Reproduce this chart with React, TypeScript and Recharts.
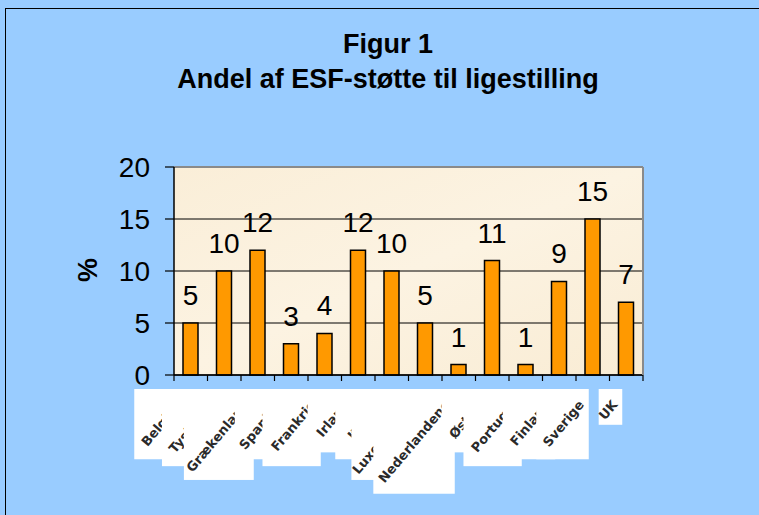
import React from "react";
import {
  BarChart,
  Bar,
  XAxis,
  YAxis,
  CartesianGrid,
  LabelList,
  ReferenceLine,
} from "recharts";

const categories = [
  "Belgien",
  "Tyskland",
  "Grækenland",
  "Spanien",
  "Frankrig",
  "Irland",
  "Italien",
  "Luxembourg",
  "Nederlandene",
  "Østrig",
  "Portugal",
  "Finland",
  "Sverige",
  "UK",
];
const shares = [5, 10, 12, 3, 4, 12, 10, 5, 1, 11, 1, 9, 15, 7];
const yTicks = [0, 5, 10, 15, 20];

const data = categories.map((name, i) => ({ name, value: shares[i] }));

const W = 759;
const H = 515;
const margin = { top: 167, right: 115, bottom: 0, left: 74 };
const Y_AXIS_W = 100;
const PLOT_W = W - margin.left - margin.right - Y_AXIS_W - 1;
const BAND = PLOT_W / categories.length;
const FONT = "Liberation Sans, Arial, sans-serif";

const XTick = (props: any) => {
  const { x, y, payload, index } = props;
  const label = String(payload.value);
  const len = label.length * 9;
  const cos = Math.cos((50 * Math.PI) / 180);
  const sin = Math.sin((50 * Math.PI) / 180);
  const ex = x - 8;
  const ey = y + 30;
  const left = ex - len * cos - 8;
  const bottom = ey + len * sin + 6;
  return (
    <g>
      <line x1={x - BAND / 2} y1={y} x2={x - BAND / 2} y2={y + 6} stroke="#000" strokeWidth={1.2} />
      {index === categories.length - 1 && (
        <line x1={x + BAND / 2} y1={y} x2={x + BAND / 2} y2={y + 6} stroke="#000" strokeWidth={1.2} />
      )}
      <rect x={left} y={y + 14} width={ex + 4 - left} height={bottom - (y + 14)} fill="#fff" />
      <text
        x={ex}
        y={ey}
        textAnchor="end"
        transform={`rotate(-50 ${ex} ${ey})`}
        fontSize={13}
        fontWeight="bold"
        fontFamily="DejaVu Sans, sans-serif"
        fill="#2a2a2a"
      >
        {label}
      </text>
    </g>
  );
};

export default function App() {
  return (
    <div
      style={{
        position: "absolute",
        left: 0,
        top: 0,
        width: W,
        height: H,
        background: "#99CCFF",
        overflow: "hidden",
        fontFamily: FONT,
      }}
    >
      <div
        style={{
          position: "absolute",
          left: 5,
          top: 8,
          width: W,
          height: H,
          borderTop: "1.5px solid #000",
          borderLeft: "1.5px solid #000",
        }}
      />
      <div
        style={{
          position: "absolute",
          left: 0,
          top: 27,
          width: 776,
          textAlign: "center",
          fontSize: 27,
          fontWeight: "bold",
          lineHeight: "35px",
          color: "#000",
        }}
      >
        <div>Figur 1</div>
        <div>Andel af ESF-støtte til ligestilling</div>
      </div>
      <div
        style={{
          position: "absolute",
          left: 68,
          top: 254,
          width: 40,
          height: 32,
          textAlign: "center",
          fontSize: 27,
          fontWeight: "bold",
          lineHeight: "32px",
          transform: "rotate(-90deg)",
        }}
      >
        %
      </div>
      <div style={{ position: "absolute", left: 0, top: 0 }}>
        <BarChart width={W} height={H} data={data} margin={margin} barCategoryGap={0}>
          <defs>
            <linearGradient id="plotBg" x1="0" y1="0" x2="1" y2="1">
              <stop offset="0%" stopColor="#FAEED8" />
              <stop offset="50%" stopColor="#FCF3E2" />
              <stop offset="100%" stopColor="#F9ECD4" />
            </linearGradient>
          </defs>
          <CartesianGrid vertical={false} stroke="#000" strokeWidth={1} fill="url(#plotBg)" />
          <XAxis
            dataKey="name"
            height={H - 375}
            interval={0}
            tickSize={0}
            tickMargin={0}
            tickLine={false}
            axisLine={{ stroke: "#000", strokeWidth: 1.5 }}
            tick={<XTick />}
          />
          <YAxis
            width={Y_AXIS_W}
            domain={[0, 20]}
            ticks={yTicks}
            tickSize={9}
            tickMargin={15}
            tickLine={{ stroke: "#000", strokeWidth: 1.2 }}
            axisLine={{ stroke: "#000", strokeWidth: 1.5 }}
            tick={{ fontSize: 28, fill: "#000", fontFamily: FONT }}
          />
          <YAxis
            yAxisId="right"
            orientation="right"
            width={1}
            domain={[0, 20]}
            tick={false}
            tickLine={false}
            axisLine={{ stroke: "#8a8a8a", strokeWidth: 2 }}
          />
          <ReferenceLine y={20} stroke="#8a8a8a" strokeWidth={2} />
          <Bar
            dataKey="value"
            fill="#FF9900"
            stroke="#000"
            strokeWidth={1.5}
            barSize={15}
            isAnimationActive={false}
          >
            <LabelList
              dataKey="value"
              position="top"
              offset={18}
              fontSize={28}
              fill="#000"
              fontFamily={FONT}
            />
          </Bar>
        </BarChart>
      </div>
    </div>
  );
}
